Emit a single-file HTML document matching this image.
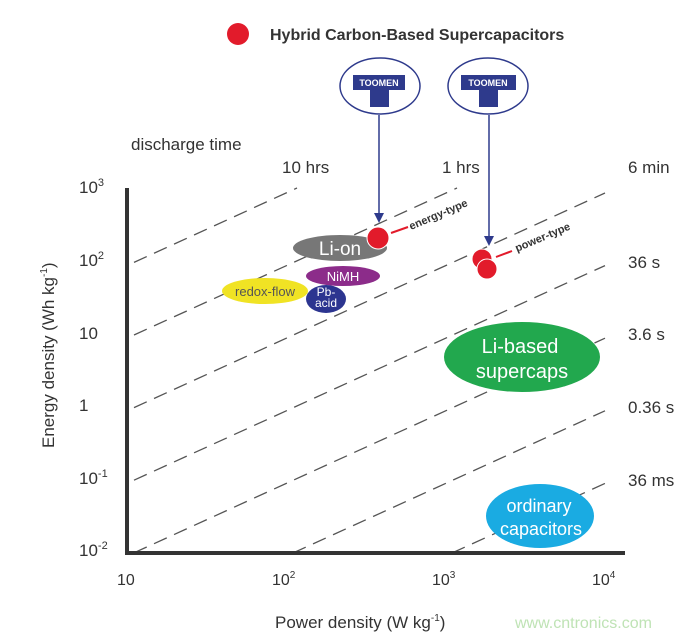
<!DOCTYPE html>
<html><head><meta charset="utf-8"><style>
html,body{margin:0;background:#fff;width:700px;height:639px;overflow:hidden}
svg{display:block;font-family:"Liberation Sans",sans-serif}
</style></head><body>
<svg width="700" height="639" viewBox="0 0 700 639" xmlns="http://www.w3.org/2000/svg">
<g stroke="#555" stroke-width="1.3" stroke-dasharray="14,8" fill="none">
<line x1="134" y1="262.4" x2="297" y2="188"/>
<line x1="134" y1="335" x2="457" y2="188"/>
<line x1="134" y1="407.6" x2="605" y2="193"/>
<line x1="134" y1="480.2" x2="605" y2="265.6"/>
<line x1="134" y1="552.8" x2="605" y2="338.2"/>
<line x1="293" y1="553" x2="605" y2="410.8"/>
<line x1="452" y1="553" x2="605" y2="483.4"/>
</g>
<path d="M127,188 V553 H625" stroke="#333" stroke-width="4" fill="none"/>
<g font-size="17" fill="#333">
<text x="131" y="150">discharge time</text>
<text x="282" y="173">10 hrs</text>
<text x="442" y="173">1 hrs</text>
<text x="628" y="173">6 min</text>
<text x="628" y="268">36 s</text>
<text x="628" y="340">3.6 s</text>
<text x="628" y="413">0.36 s</text>
<text x="628" y="486">36 ms</text>
</g>
<g font-size="17" fill="#333">
<text x="79" y="193">10<tspan font-size="11" dy="-7">3</tspan></text>
<text x="79" y="266">10<tspan font-size="11" dy="-7">2</tspan></text>
<text x="79" y="339">10</text>
<text x="79" y="411">1</text>
<text x="79" y="484">10<tspan font-size="11" dy="-7">-1</tspan></text>
<text x="79" y="556">10<tspan font-size="11" dy="-7">-2</tspan></text>
</g>
<g font-size="16" fill="#333">
<text x="117" y="585">10</text>
<text x="272" y="585">10<tspan font-size="10" dy="-7">2</tspan></text>
<text x="432" y="585">10<tspan font-size="10" dy="-7">3</tspan></text>
<text x="592" y="585">10<tspan font-size="10" dy="-7">4</tspan></text>
</g>
<text x="275" y="628" font-size="17" fill="#333">Power density (W kg<tspan font-size="10" dy="-7">-1</tspan><tspan dy="7">)</tspan></text>
<text transform="translate(54,448) rotate(-90)" font-size="17" fill="#333">Energy  density  (Wh kg<tspan font-size="10" dy="-7">-1</tspan><tspan dy="7">)</tspan></text>
<text x="515" y="628" font-size="16" fill="#bfe3b5">www.cntronics.com</text>
<circle cx="238" cy="34" r="11" fill="#e21b2b"/>
<text x="270" y="40" font-size="16" font-weight="bold" fill="#333">Hybrid Carbon-Based Supercapacitors</text>
<g stroke="#2e3a8c" fill="none" stroke-width="1.5">
<ellipse cx="380" cy="86" rx="40" ry="28"/>
<ellipse cx="488" cy="86" rx="40" ry="28"/>
<line x1="379" y1="115" x2="379" y2="215"/>
<line x1="489" y1="115" x2="489" y2="238"/>
</g>
<g fill="#2e3a8c">
<rect x="353" y="75" width="52" height="15"/><rect x="370" y="89" width="19" height="18"/>
<rect x="461" y="75" width="55" height="15"/><rect x="479" y="89" width="19" height="18"/>
<path d="M374,213 L384,213 L379,223 Z"/>
<path d="M484,236 L494,236 L489,246 Z"/>
</g>
<g fill="#fff" font-size="9" font-weight="bold" text-anchor="middle">
<text x="379" y="86">TOOMEN</text><text x="488" y="86">TOOMEN</text>
</g>
<ellipse cx="340" cy="248" rx="47" ry="13" fill="#777"/>
<text x="340" y="255" font-size="19" fill="#fff" text-anchor="middle">Li-on</text>
<ellipse cx="343" cy="276" rx="37" ry="10" fill="#8c2c8a"/>
<text x="343" y="281" font-size="13" fill="#fff" text-anchor="middle">NiMH</text>
<ellipse cx="265" cy="291" rx="43" ry="13" fill="#f0e324"/>
<text x="265" y="296" font-size="13" fill="#555" text-anchor="middle">redox-flow</text>
<ellipse cx="326" cy="299" rx="20" ry="14" fill="#2c3590"/>
<text x="326" y="296" font-size="12" fill="#fff" text-anchor="middle">Pb-</text>
<text x="326" y="307" font-size="12" fill="#fff" text-anchor="middle">acid</text>
<ellipse cx="522" cy="357" rx="78" ry="35" fill="#22a84e"/>
<text x="520" y="353" font-size="20" fill="#fff" text-anchor="middle">Li-based</text>
<text x="522" y="378" font-size="20" fill="#fff" text-anchor="middle">supercaps</text>
<ellipse cx="540" cy="516" rx="54" ry="32" fill="#1aabe2"/>
<text x="539" y="512" font-size="18" fill="#fff" text-anchor="middle">ordinary</text>
<text x="541" y="535" font-size="18" fill="#fff" text-anchor="middle">capacitors</text>
<g stroke="#e21b2b" stroke-width="2"><line x1="391" y1="233" x2="408" y2="227"/><line x1="496" y1="257" x2="512" y2="251"/></g>
<g fill="#e21b2b" stroke="#fff" stroke-width="1">
<circle cx="378" cy="238" r="11"/>
<circle cx="482" cy="259" r="10"/><circle cx="487" cy="269" r="10"/>
</g>
<text transform="translate(411,230) rotate(-23)" font-size="11" font-weight="bold" fill="#333">energy-type</text>
<text transform="translate(517,252) rotate(-23)" font-size="11" font-weight="bold" fill="#333">power-type</text>
</svg>
</body></html>
